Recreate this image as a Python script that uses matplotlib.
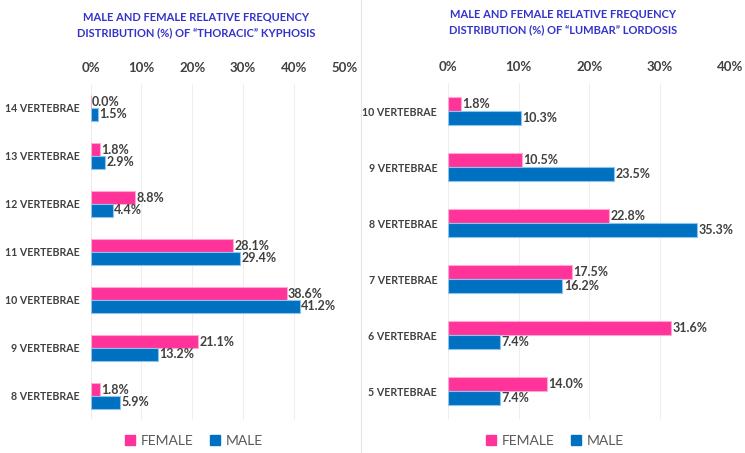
import matplotlib
matplotlib.use("Agg")
import matplotlib.pyplot as plt
from matplotlib.patches import Patch
from matplotlib.lines import Line2D

plt.rcParams['font.family'] = ['Lato', 'DejaVu Sans']

# ---- data ----
thor_categories = ["14 VERTEBRAE", "13 VERTEBRAE", "12 VERTEBRAE", "11 VERTEBRAE",
                   "10 VERTEBRAE", "9 VERTEBRAE", "8 VERTEBRAE"]
thor_female = [0.0, 1.8, 8.8, 28.1, 38.6, 21.1, 1.8]
thor_male = [1.5, 2.9, 4.4, 29.4, 41.2, 13.2, 5.9]
thor_ticks = [0, 10, 20, 30, 40, 50]

lumb_categories = ["10 VERTEBRAE", "9 VERTEBRAE", "8 VERTEBRAE", "7 VERTEBRAE",
                   "6 VERTEBRAE", "5 VERTEBRAE"]
lumb_female = [1.8, 10.5, 22.8, 17.5, 31.6, 14.0]
lumb_male = [10.3, 23.5, 35.3, 16.2, 7.4, 7.4]
lumb_ticks = [0, 10, 20, 30, 40]

titles = ["MALE AND FEMALE RELATIVE FREQUENCY\nDISTRIBUTION (%) OF \u201cTHORACIC\u201d KYPHOSIS",
          "MALE AND FEMALE RELATIVE FREQUENCY\nDISTRIBUTION (%) OF \u201cLUMBAR\u201d LORDOSIS"]
series_names = ["FEMALE", "MALE"]

PINK = "#FF3399"
BLUE = "#0070C0"
TEXT = "#404040"
TITLE_C = "#3333CC"

W, H = 745, 453
fig = plt.figure(figsize=(W / 100, H / 100), dpi=100)
fig.patch.set_facecolor("white")

def px_axes(x0, x1, ytop, ybot):
    return fig.add_axes([x0 / W, (H - ybot) / H, (x1 - x0) / W, (ybot - ytop) / H])

def draw(ax, cats, fem, mal, ticks, bar_h):
    n = len(cats)
    pos = list(range(n))
    ax.barh([p - bar_h / 2 for p in pos], fem, height=bar_h, color=PINK,
            edgecolor="#ffa8d4", linewidth=0.8, zorder=3)
    ax.barh([p + bar_h / 2 for p in pos], mal, height=bar_h, color=BLUE,
            edgecolor="#8cc4ee", linewidth=0.8, zorder=3)
    for p, v in zip(pos, fem):
        ax.annotate(f"{v:.1f}%", (v, p - bar_h / 2), xytext=(1, 0), textcoords="offset points",
                    va="center", ha="left", fontsize=9, fontweight="bold", color=TEXT)
    for p, v in zip(pos, mal):
        ax.annotate(f"{v:.1f}%", (v, p + bar_h / 2), xytext=(1, 0), textcoords="offset points",
                    va="center", ha="left", fontsize=9, fontweight="bold", color=TEXT)
    ax.set_ylim(n - 0.5, -0.5)
    ax.set_xlim(ticks[0], ticks[-1])
    ax.set_xticks(ticks)
    ax.set_xticklabels([f"{t}%" for t in ticks], fontsize=9.5, fontweight="bold", color=TEXT)
    ax.xaxis.tick_top()
    ax.set_yticks(pos)
    ax.set_yticklabels(cats, fontsize=7.7, fontweight="bold", color=TEXT)
    ax.tick_params(axis="both", length=0)
    ax.tick_params(axis="x", pad=7)
    ax.tick_params(axis="y", pad=8)
    for s in ax.spines.values():
        s.set_visible(False)
    ax.grid(axis="x", color="#eeeeee", linewidth=0.8, zorder=0)
    ax.set_axisbelow(True)

axL = px_axes(90.5, 344.6, 84, 420)
draw(axL, thor_categories, thor_female, thor_male, thor_ticks, 0.267)
axR = px_axes(448.3, 730, 83, 419)
draw(axR, lumb_categories, lumb_female, lumb_male, lumb_ticks, 0.258)

fig.text(196 / W, 1 - 25 / H, titles[0], ha="center", va="center", fontsize=8,
         fontweight="bold", color=TITLE_C, linespacing=1.45)
fig.text(563 / W, 1 - 22 / H, titles[1], ha="center", va="center", fontsize=8,
         fontweight="bold", color=TITLE_C, linespacing=1.45)

handles = [Patch(facecolor=PINK, edgecolor=PINK), Patch(facecolor=BLUE, edgecolor=BLUE)]
for cx in (194, 555):
    fig.legend(handles, series_names, loc="center", bbox_to_anchor=(cx / W, 1 - 441 / H),
               ncol=2, frameon=False, fontsize=10, handlelength=0.7, handleheight=0.7,
               handletextpad=0.4, columnspacing=1.2, labelcolor="#595959")

fig.add_artist(Line2D([361 / W, 361 / W], [0, 1], color="#e6e6e6", linewidth=0.8))

fig.savefig("out.png", dpi=100)
